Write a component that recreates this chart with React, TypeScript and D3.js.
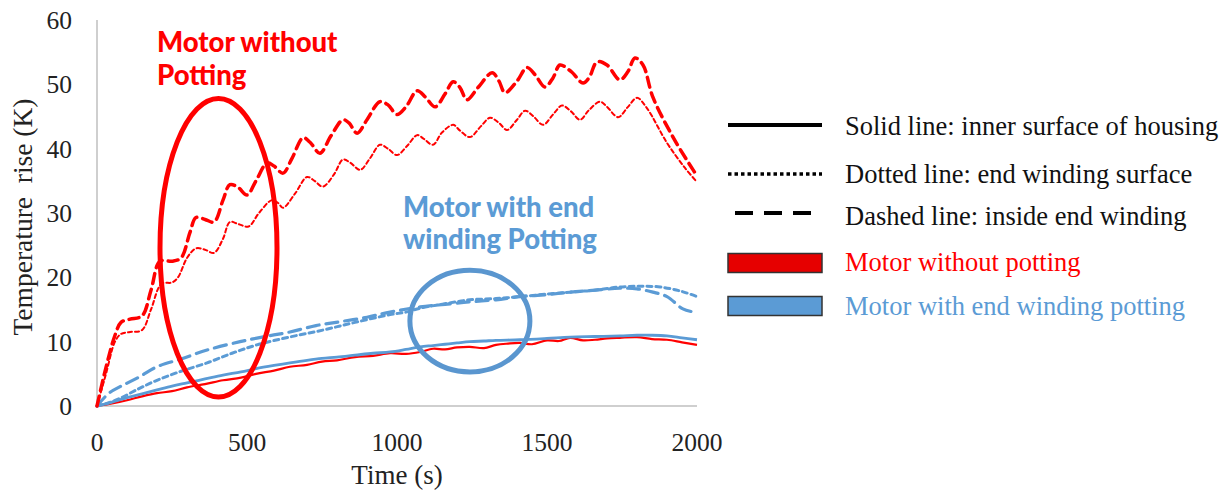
import React from 'react';
import * as d3 from 'd3';

// time (s), temperature rise (K)
const redSolid: [number, number][] = [
  [0, 0], [50, 0.4], [100, 0.9], [150, 1.5], [200, 2], [250, 2.3], [300, 2.9], [360, 3.4], [420, 4], [480, 4.4],
  [530, 5], [590, 5.5], [643, 6.1], [700, 6.4], [750, 6.9], [800, 7.1], [860, 7.6], [920, 7.8], [977, 8.2],
  [1030, 8.1], [1077, 8.4], [1120, 8.9], [1160, 8.8], [1200, 9.1], [1243, 9.2], [1290, 9.0], [1330, 9.5],
  [1370, 9.7], [1410, 9.8], [1450, 9.6], [1500, 10.2], [1540, 10.1], [1577, 10.6], [1620, 10.2], [1660, 10.3],
  [1700, 10.5], [1743, 10.6], [1800, 10.7], [1850, 10.4], [1900, 10.3], [1950, 9.9], [2000, 9.5],
];
const redDotted: [number, number][] = [
  [0, 0], [30, 5], [60, 10], [80, 11.2], [110, 11.5], [150, 11.8], [180, 15], [215, 19], [250, 19.2], [270, 20],
  [300, 23], [330, 24.5], [360, 24.3], [390, 23.8], [420, 26], [443, 28.6], [470, 28.3], [505, 27.9], [540, 30],
  [583, 32], [605, 31.5], [620, 30.8], [660, 33], [700, 35.6], [725, 35], [753, 34.1], [790, 36], [820, 38.3],
  [845, 37.8], [877, 36.7], [910, 38.5], [943, 40.6], [970, 40], [1000, 39], [1035, 40.5], [1067, 42.1],
  [1090, 41.5], [1120, 40.6], [1150, 42.5], [1187, 43.7], [1210, 42.8], [1243, 41.8], [1280, 43.5], [1310, 44.8],
  [1340, 44], [1367, 42.9], [1400, 44.5], [1427, 45.9], [1455, 45], [1487, 43.7], [1520, 45.3], [1550, 46.7],
  [1580, 45.8], [1610, 44.5], [1640, 46], [1677, 47.3], [1700, 46.5], [1737, 44.9], [1770, 46.5], [1800, 47.9],
  [1833, 46.3], [1900, 40.9], [1960, 37], [2000, 34.8],
];
const redDashed: [number, number][] = [
  [0, 0], [30, 6], [60, 11], [80, 13], [110, 13.5], [150, 14], [180, 18], [210, 22.5], [250, 22.5], [280, 23],
  [310, 27], [330, 29.3], [360, 29], [390, 28.6], [420, 32], [443, 34.4], [470, 34], [500, 32.8], [530, 35],
  [567, 37.8], [590, 37.3], [620, 36.2], [650, 38.5], [687, 41.7], [710, 41], [743, 39.3], [780, 42], [820, 44.5],
  [840, 44], [867, 42.4], [900, 44.5], [943, 47.3], [970, 46.8], [1000, 45.3], [1030, 46.5], [1067, 49],
  [1095, 48], [1127, 46.5], [1160, 48.5], [1187, 50.4], [1210, 49.5], [1233, 47.6], [1270, 49.5], [1317, 51.8],
  [1340, 50.5], [1360, 48.7], [1400, 50.5], [1433, 52.6], [1460, 51.5], [1493, 49.6], [1520, 51], [1543, 53],
  [1580, 52], [1620, 50.2], [1640, 51], [1667, 53.5], [1700, 53], [1743, 50.7], [1770, 52], [1793, 54.1],
  [1820, 53], [1853, 48], [1920, 41.8], [1987, 36.7], [2000, 35.8],
];
const blueSolid: [number, number][] = [
  [0, 0], [50, 0.6], [100, 1.3], [150, 1.9], [200, 2.5], [250, 3.1], [300, 3.6], [360, 4.2], [420, 4.8],
  [480, 5.3], [530, 5.8], [590, 6.3], [643, 6.7], [700, 7.1], [750, 7.4], [800, 7.6], [860, 7.9], [920, 8.2],
  [977, 8.4], [1030, 8.8], [1077, 9.2], [1120, 9.4], [1160, 9.6], [1200, 9.8], [1243, 10], [1290, 10.1],
  [1330, 10.2], [1410, 10.3], [1500, 10.5], [1577, 10.7], [1660, 10.8], [1743, 10.9], [1800, 11],
  [1850, 11], [1900, 10.9], [1950, 10.6], [2000, 10.3],
];
const blueDotted: [number, number][] = [
  [0, 0], [40, 0.5], [77, 1.2], [140, 2.7], [200, 4], [280, 5.4], [367, 6.7], [450, 8.2], [533, 9.5],
  [640, 10.7], [753, 11.8], [860, 13], [977, 14.2], [1030, 14.6], [1077, 15.2], [1160, 15.9], [1243, 16.5],
  [1330, 16.7], [1410, 17], [1500, 17.4], [1577, 17.7], [1660, 18], [1743, 18.5], [1810, 18.6], [1877, 18.5],
  [1950, 17.8], [2000, 17],
];
const blueDashed: [number, number][] = [
  [0, 0], [40, 2], [77, 3], [140, 4.5], [200, 6.1], [280, 7.3], [367, 8.7], [477, 10], [560, 10.8], [643, 11.5],
  [730, 12.5], [810, 13.1], [900, 13.8], [977, 14.6], [1077, 15.4], [1160, 15.8], [1243, 16.2], [1330, 16.5],
  [1410, 17], [1500, 17.3], [1577, 17.7], [1660, 18], [1743, 18.3], [1800, 18.2], [1853, 17.7], [1900, 17],
  [1953, 15.1], [1990, 14.6],
];

const xTicks = [0, 500, 1000, 1500, 2000];
const yTicks = [0, 10, 20, 30, 40, 50, 60];

const legendItems = [
  { label: 'Solid line: inner surface of housing', kind: 'solid', color: '#000' },
  { label: 'Dotted line: end winding surface', kind: 'dotted', color: '#000' },
  { label: 'Dashed line: inside end winding', kind: 'dashed', color: '#000' },
  { label: 'Motor without potting', kind: 'rect', color: '#FF0000', fill: '#E60000' },
  { label: 'Motor with end winding potting', kind: 'rect', color: '#5B9BD5', fill: '#5B9BD5' },
];

const RED = '#FF0000';
const BLUE = '#5B9BD5';

export default function App() {
  const x = d3.scaleLinear().domain([0, 2000]).range([97, 697]);
  const y = d3.scaleLinear().domain([0, 60]).range([406, 20]);
  const line = d3.line<[number, number]>()
    .x(d => x(d[0]))
    .y(d => y(d[1]))
    .curve(d3.curveCatmullRom.alpha(0.5));

  const series = [
    { data: redSolid, color: RED, width: 2.2, dash: null },
    { data: blueSolid, color: BLUE, width: 2.8, dash: null },
    { data: blueDotted, color: BLUE, width: 3, dash: '5,4' },
    { data: blueDashed, color: BLUE, width: 3.2, dash: '12,7' },
    { data: redDotted, color: RED, width: 2, dash: '4,3' },
    { data: redDashed, color: RED, width: 3.5, dash: '10,6' },
  ];

  const serif = '"Liberation Serif", "Times New Roman", serif';
  const sans = 'Lato, "Open Sans", sans-serif';

  return (
    <svg width={1232} height={494} style={{ position: 'absolute', left: 0, top: 0, background: '#fff' }}>
      {/* axes */}
      <line x1={x(0)} x2={x(0)} y1={y(0)} y2={y(60)} stroke="#BFBFBF" strokeWidth={1.5} />
      <line x1={x(0)} x2={x(2000)} y1={y(0)} y2={y(0)} stroke="#BFBFBF" strokeWidth={1.5} />
      {yTicks.map(t => (
        <text key={t} x={72} y={y(t)} dy="0.35em" textAnchor="end" fontFamily={serif} fontSize={25.5} fill="#222">{t}</text>
      ))}
      {xTicks.map(t => (
        <text key={t} x={x(t)} y={442} dy="0.35em" textAnchor="middle" fontFamily={serif} fontSize={25.5} fill="#222">{t}</text>
      ))}
      <text x={397} y={475} dy="0.35em" textAnchor="middle" fontFamily={serif} fontSize={27} fill="#222">Time (s)</text>
      <text transform="translate(22,217) rotate(-90)" dy="0.35em" textAnchor="middle" fontFamily={serif} fontSize={27.5} fill="#222" style={{ whiteSpace: 'pre' }}>
        {'Temperature  rise (K)'}
      </text>

      {/* lines */}
      {series.map((s, i) => (
        <path key={i} d={line(s.data) || ''} fill="none" stroke={s.color} strokeWidth={s.width}
          strokeDasharray={s.dash || undefined} strokeLinecap={s.dash ? 'round' : 'butt'} strokeLinejoin="round" />
      ))}

      {/* annotations */}
      <ellipse cx={x(405)} cy={y(24.6)} rx={x(195) - x(0)} ry={y(0) - y(23.2)} fill="none" stroke={RED} strokeWidth={5} />
      <ellipse cx={x(1243)} cy={y(13.2)} rx={x(200) - x(0)} ry={y(0) - y(7.9)} fill="none" stroke="#5A96CF" strokeWidth={5} />
      <text x={157} y={52} fontFamily={sans} fontWeight="900" fontSize={27.5} fill={RED}>
        <tspan x={157}>Motor without</tspan>
        <tspan x={157} dy={33}>Potting</tspan>
      </text>
      <text x={403} y={217} fontFamily={sans} fontWeight="900" fontSize={27.5} fill={BLUE}>
        <tspan x={403}>Motor with end</tspan>
        <tspan x={403} dy={32}>winding Potting</tspan>
      </text>

      {/* legend */}
      {legendItems.map((d, i) => {
        const cy = [125, 174, 213, 263, 306][i];
        const ty = [126, 174, 216, 262, 306][i];
        return (
          <g key={d.label}>
            {d.kind === 'rect' ? (
              <rect x={728} y={cy - 9.5} width={94} height={19} fill={d.fill} stroke="#333" strokeWidth={1.5} />
            ) : (
              <line x1={d.kind === 'dashed' ? 735 : 728} x2={d.kind === 'dashed' ? 812 : 822} y1={cy} y2={cy}
                stroke={d.color} strokeWidth={d.kind === 'dotted' ? 3.5 : 4}
                strokeDasharray={d.kind === 'dotted' ? '3.5,3' : d.kind === 'dashed' ? '18,11' : undefined} />
            )}
            <text x={845} y={ty} dy="0.35em" fontFamily={serif} fontSize={26.5} fill={d.color === '#000' ? '#111' : d.color}>{d.label}</text>
          </g>
        );
      })}
    </svg>
  );
}
